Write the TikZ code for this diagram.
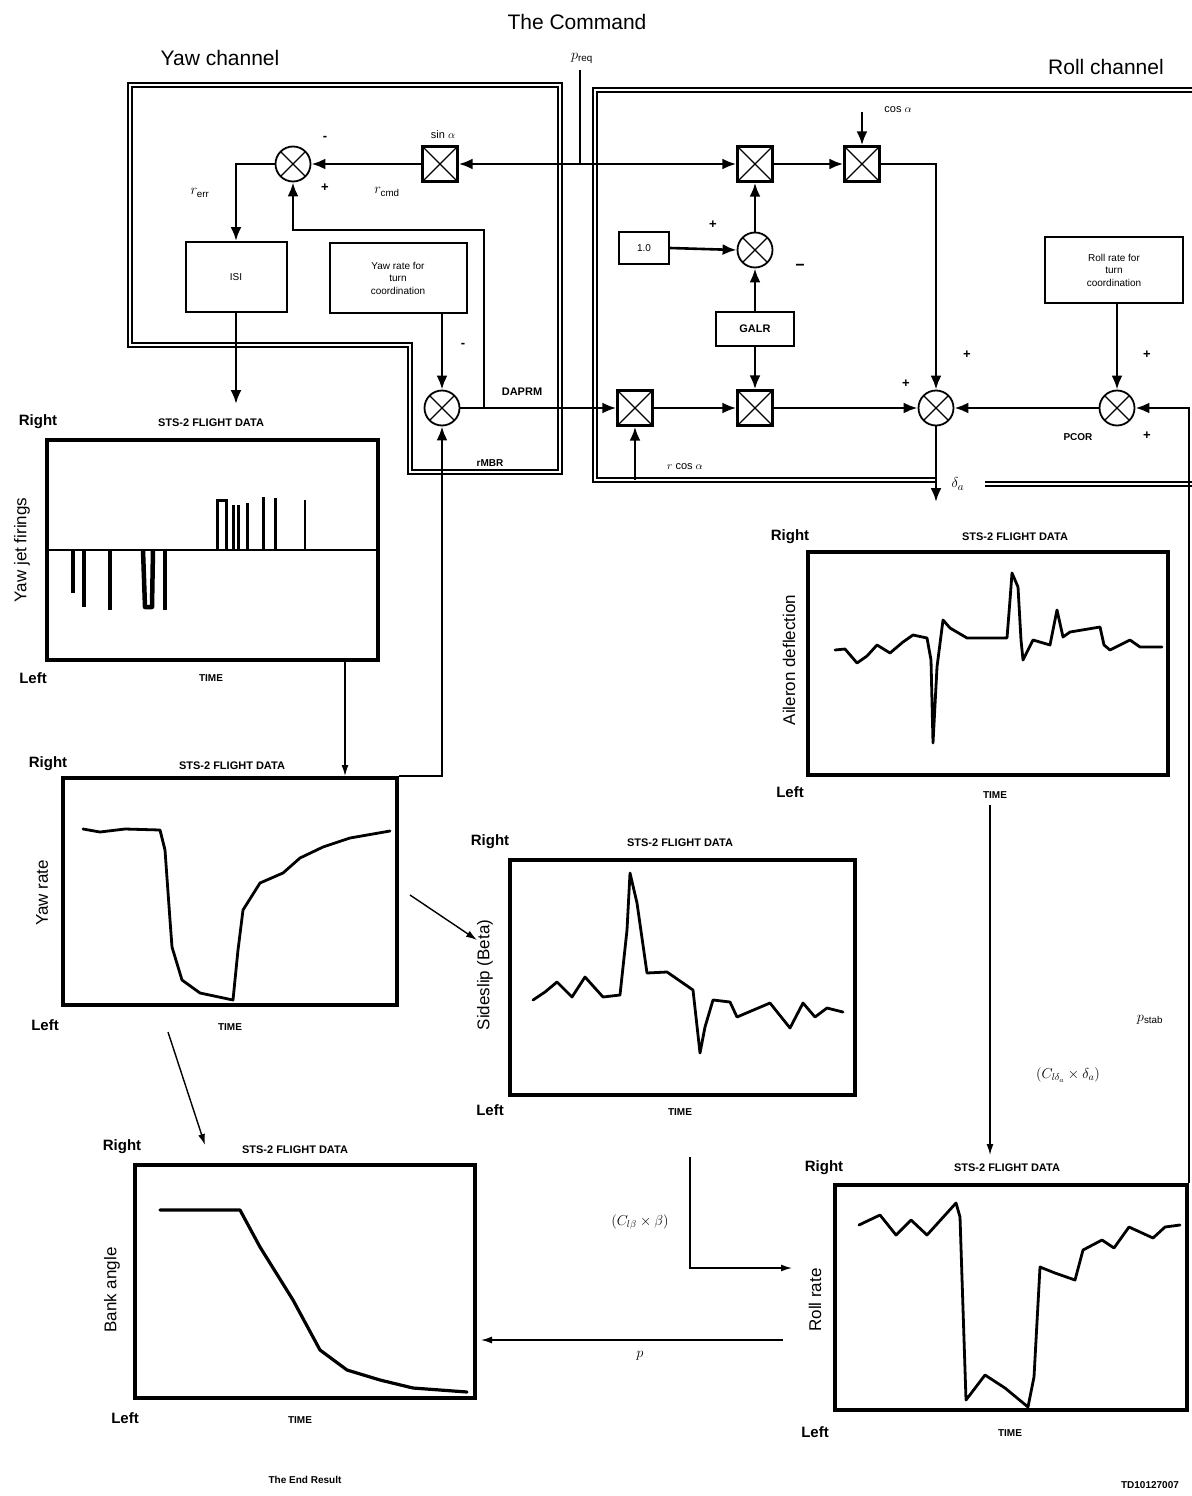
\documentclass[tikz,border=0pt]{standalone}
\usepackage{fontspec}
\setmainfont{Liberation Sans}
\usetikzlibrary{arrows.meta,calc}
\begin{document}
\begin{tikzpicture}[x=1pt,y=-1pt,
 sig/.style={line width=2.6pt,-{Latex[length=14pt,width=11pt]}},
 wire/.style={line width=2.6pt},
 thinarr/.style={line width=1.4pt,-{Latex[length=11pt,width=7pt]}},
 bound/.style={draw,line width=1.5pt,double=white,double distance=2.4pt},
 sumj/.style={circle,draw,line width=1.8pt,minimum size=35pt,inner sep=0pt,fill=white,
   path picture={\draw[line width=1.1pt] (path picture bounding box.north west)--(path picture bounding box.south east) (path picture bounding box.north east)--(path picture bounding box.south west);}},
 mult/.style={rectangle,draw,line width=2.4pt,minimum width=35pt,minimum height=35pt,inner sep=0pt,fill=white,
   path picture={\draw[line width=1.1pt] (path picture bounding box.north west)--(path picture bounding box.south east) (path picture bounding box.north east)--(path picture bounding box.south west);}},
 blk/.style={rectangle,draw,line width=2pt,align=center,fill=white,font=\fontsize{10}{12.5}\selectfont},
 graph/.style={rectangle,draw,line width=4pt,inner sep=0pt},
 curve/.style={line width=2.8pt,line join=round,line cap=round},
 jetd/.style={line width=4.5pt},
 jetu/.style={line width=3pt},
 lab/.style={font=\fontsize{11}{13}\selectfont},
 mlab/.style={font=\fontsize{14}{16}\selectfont},
 sgn/.style={font=\bfseries\fontsize{13}{14}\selectfont},
 gtitle/.style={font=\bfseries\fontsize{11}{13}\selectfont},
 rl/.style={font=\bfseries\fontsize{15}{17}\selectfont},
 tm/.style={font=\bfseries\fontsize{10}{12}\selectfont},
 ylab/.style={font=\fontsize{17}{19}\selectfont,rotate=90},
 head/.style={font=\fontsize{21}{24}\selectfont}]
\useasboundingbox (0,0) rectangle (1191,1496);
\fill[white] (0,0) rectangle (1191,1496);

% headings
\node[head] (cmdtitle) at (577,22) {The Command};
\node[head] (yawtitle) at (220,58) {Yaw channel};
\node[head] (rolltitle) at (1106,67) {Roll channel};

% channel boundaries
\draw[bound] (130,85) -- (560,85) -- (560,472) -- (410,472) -- (410,345) -- (130,345) -- cycle;
\draw[bound] (1195,90) -- (595,90) -- (595,480) -- (936,480);
\draw[bound] (985,484) -- (1195,484);

% ---------------- yaw channel ----------------
\node[sumj] (s1) at (293,164) {};
\node[mult] (sinB) at (440,164) {};
\node[lab] (sinL) at (443,135) {sin $\alpha$};
\node[blk,minimum width=101pt,minimum height=70pt] (isi) at (236,277) {ISI};
\node[blk,minimum width=137pt,minimum height=70pt] (yrb) at (398,278) {Yaw rate for\\turn\\coordination};
\node[sumj] (s2) at (442,408) {};
\node[mlab] (rerr) at (200,193) {$r_{\mathrm{err}}$};
\node[mlab] (rcmd) at (387,192) {$r_{\mathrm{cmd}}$};
\node[sgn] (s1m) at (325,138) {-};
\node[sgn] (s1p) at (325,188) {+};
\node[sgn] (s2m) at (463,345) {-};
\node[lab,font=\bfseries\fontsize{11}{13}\selectfont] (daprm) at (522,392) {DAPRM};
\node[lab,font=\bfseries\fontsize{10}{12}\selectfont] (rmbr) at (490,463) {rMBR};
\node[mlab] (preq) at (582,58) {$p_{\mathrm{req}}$};

% ---------------- roll channel ----------------
\node[mult] (R1) at (755,164) {};
\node[mult] (R2) at (862,164) {};
\node[lab] (cosL) at (898,110) {cos $\alpha$};
\node[blk,minimum width=50pt,minimum height=32pt] (one) at (644,248) {1.0};
\node[sumj] (sM) at (755,250) {};
\node[blk,minimum width=78pt,minimum height=34pt,font=\bfseries\fontsize{11}{13}\selectfont] (galr) at (755,329) {GALR};
\node[mult] (R3) at (635,408) {};
\node[mult] (R4) at (755,408) {};
\node[sumj] (sR) at (936,408) {};
\node[sumj] (sP) at (1117,408) {};
\node[blk,minimum width=138pt,minimum height=66pt] (rrb) at (1114,270) {Roll rate for\\turn\\coordination};
\node[sgn] (sMp) at (713,225) {+};
\node[font=\bfseries\fontsize{16}{16}\selectfont] (sMm) at (800,267) {−};
\node[sgn] (sRp1) at (967,355) {+};
\node[sgn] (sRp2) at (906,384) {+};
\node[sgn] (sPp1) at (1147,355) {+};
\node[sgn] (sPp2) at (1147,436) {+};
\node[lab,font=\bfseries\fontsize{10}{12}\selectfont] (pcor) at (1078,437) {PCOR};
\node[lab] (rcos) at (685,467) {$r$ cos $\alpha$};
\node[font=\fontsize{15}{16}\selectfont] (dal) at (958,484) {$\delta_a$};

% ---------------- yaw signals ----------------
\coordinate (pq) at (580,70);
\coordinate (J) at (580,164);
\draw[wire] (pq) -- (J);
\draw[sig] (J) -- (sinB.east);
\draw[sig] (J) -- (R1.west);
\draw[sig] (sinB.west) -- (s1.east);
\draw[sig] (s1.west) -| (isi.north);
\coordinate (isiend) at (236,404);
\draw[sig] (isi.south) -- (isiend);
\draw[sig] (yrb.south -| s2.north) -- (s2.north);
\draw[sig] (s2.east) -- (R3.west);
\coordinate (jd) at (484,408);
\coordinate (fb1) at (484,230);
\draw[sig] (jd) -- (fb1) -| (s1.south);

% ---------------- roll signals ----------------
\draw[sig] (R1.east) -- (R2.west);
\coordinate (cosin) at (862,112);
\draw[sig] (cosin) -- (R2.north);
\draw[sig] (R2.east) -| (sR.north);
\draw[sig] (one.east) -- (sM.west);
\draw[sig] (sM.north) -- (R1.south);
\draw[sig] (galr.north) -- (sM.south);
\draw[sig] (galr.south) -- (R4.north);
\draw[sig] (R3.east) -- (R4.west);
\draw[sig] (R4.east) -- (sR.west);
\coordinate (rc) at (635,480);
\draw[sig] (rc) -- (R3.south);
\coordinate (dA) at (936,502);
\draw[sig] (sR.south) -- (dA);
\draw[sig] (rrb.south -| sP.north) -- (sP.north);
\draw[sig] (sP.west) -- (sR.east);

% ---------------- graphs ----------------
\node[graph,minimum width=331pt,minimum height=220pt] (g1) at (212.5,550) {};
\node[graph,minimum width=334pt,minimum height=227pt] (g2) at (230,891.5) {};
\node[graph,minimum width=345pt,minimum height=235pt] (g3) at (682.5,977.5) {};
\node[graph,minimum width=360pt,minimum height=223pt] (g4) at (988,663.5) {};
\node[graph,minimum width=352pt,minimum height=225pt] (g5) at (1011,1297.5) {};
\node[graph,minimum width=340pt,minimum height=233pt] (g6) at (305,1281.5) {};

% graph 1 texts
\node[rl] (g1r) at (38,422) {Right};
\node[gtitle] (g1t) at (211,423) {STS-2 FLIGHT DATA};
\node[ylab] (g1y) at (22,550) {Yaw jet firings};
\node[rl] (g1l) at (33,678) {Left};
\node[tm] (g1x) at (211,678) {TIME};
% graph 2 texts
\node[rl] (g2r) at (48,764) {Right};
\node[gtitle] (g2t) at (232,766) {STS-2 FLIGHT DATA};
\node[ylab] (g2y) at (42,893) {Yaw rate};
\node[rl] (g2l) at (45,1025) {Left};
\node[tm] (g2x) at (230,1027) {TIME};
% graph 3 texts
\node[rl] (g3r) at (490,842) {Right};
\node[gtitle] (g3t) at (680,843) {STS-2 FLIGHT DATA};
\node[ylab] (g3y) at (485,975) {Sideslip (Beta)};
\node[rl] (g3l) at (490,1110) {Left};
\node[tm] (g3x) at (680,1112) {TIME};
% graph 4 texts
\node[rl] (g4r) at (790,537) {Right};
\node[gtitle] (g4t) at (1015,537) {STS-2 FLIGHT DATA};
\node[ylab] (g4y) at (789,660) {Aileron deflection};
\node[rl] (g4l) at (790,792) {Left};
\node[tm] (g4x) at (995,795) {TIME};
% graph 5 texts
\node[rl] (g5r) at (824,1168) {Right};
\node[gtitle] (g5t) at (1007,1168) {STS-2 FLIGHT DATA};
\node[ylab] (g5y) at (815,1300) {Roll rate};
\node[rl] (g5l) at (815,1432) {Left};
\node[tm] (g5x) at (1010,1433) {TIME};
% graph 6 texts
\node[rl] (g6r) at (122,1147) {Right};
\node[gtitle] (g6t) at (295,1150) {STS-2 FLIGHT DATA};
\node[ylab] (g6y) at (112,1290) {Bank angle};
\node[rl] (g6l) at (125,1418) {Left};
\node[tm] (g6x) at (300,1420) {TIME};

% yaw jet firings trace
\draw[line width=2.6pt] (47,550) -- (378,550);
\draw[jetd] (73,550)--(73,593) (84,550)--(84,607) (110,550)--(110,610) (165,550)--(165,610);
\draw[jetd,line join=round] (143,550)--(145,607)--(152,607)--(153,550);
\draw[jetu] (217,550)--(217,500)--(226,500)--(226,550) (233,550)--(233,505) (238,550)--(238,505) (247,550)--(247,503) (263,550)--(263,497) (275,550)--(275,498);
\draw[line width=2pt] (305,550)--(305,500);

% aileron trace
\draw[curve] (835,650) -- (845,649) -- (857,663) -- (867,656) -- (877,645) -- (890,653) -- (903,642) -- (913,635) -- (927,638) -- (931,660) -- (933,743) -- (937,667) -- (943,620) -- (950,628) -- (967,638) -- (1007,638) -- (1010,600) -- (1012,573) -- (1018,587) -- (1021,640) -- (1023,660) -- (1033,640) -- (1050,645) -- (1057,610) -- (1063,637) -- (1070,632) -- (1100,627) -- (1104,645) -- (1110,650) -- (1130,640) -- (1140,647) -- (1162,647);

% yaw rate trace
\draw[curve] (83,829) -- (100,832) -- (125,829) -- (160,830) -- (165,850) -- (170,920) -- (172,947) -- (182,980) -- (200,993) -- (233,1000) -- (238,950) -- (243,910) -- (260,883) -- (283,873) -- (300,858) -- (323,847) -- (350,838) -- (390,831);

% sideslip trace
\draw[curve] (533,1000) -- (545,992) -- (557,982) -- (572,997) -- (585,977) -- (603,997) -- (620,995) -- (627,930) -- (630,873) -- (637,903) -- (647,973) -- (667,972) -- (693,990) -- (700,1053) -- (705,1027) -- (713,1000) -- (730,1002) -- (737,1017) -- (770,1003) -- (790,1028) -- (803,1003) -- (815,1017) -- (827,1008) -- (843,1012);

% roll rate trace
\draw[curve] (859,1225) -- (880,1215) -- (896,1235) -- (911,1220) -- (927,1235) -- (956,1203) -- (960,1217) -- (966,1400) -- (985,1375) -- (1005,1388) -- (1028,1407) -- (1034,1377) -- (1040,1267) -- (1055,1273) -- (1075,1280) -- (1083,1250) -- (1102,1240) -- (1114,1248) -- (1129,1227) -- (1153,1238) -- (1165,1227) -- (1180,1225);

% bank angle trace
\draw[curve,line width=3.2pt] (160,1210) -- (240,1210) -- (260,1247) -- (293,1300) -- (320,1350) -- (347,1370) -- (380,1380) -- (413,1388) -- (467,1392);

% ---------------- graph connectors ----------------
\coordinate (c345) at (345,0);
\draw[thinarr] (g1.south -| c345) -- (g2.north -| c345);
\draw[sig] (g2.north east) -| (s2.south);
\coordinate (a1) at (410,895);
\coordinate (a2) at (477,940);
\draw[thinarr] (a1) -- (a2);
\coordinate (b1) at (168,1032);
\coordinate (b2) at (205,1145);
\draw[thinarr] (b1) -- (b2);
\coordinate (d1) at (990,805);
\coordinate (d2) at (990,1155);
\draw[thinarr] (d1) -- (d2);
\node[mlab] (cld) at (1068,1075) {$(C_{l\delta_a}\times\delta_a)$};
\coordinate (e1) at (690,1157);
\coordinate (e2) at (690,1268);
\coordinate (e3) at (792,1268);
\draw[thinarr] (e1) -- (e2) -- (e3);
\node[mlab] (clb) at (640,1222) {$(C_{l\beta}\times\beta)$};
\coordinate (f1) at (783,1340);
\coordinate (f2) at (481,1340);
\draw[thinarr] (f1) -- (f2);
\node[mlab] (pl) at (640,1356) {$p$};
\draw[sig] (g5.north east) |- (sP.east);
\node[mlab] (pstab) at (1150,1020) {$p_{\mathrm{stab}}$};

% footer
\node[tm] (endres) at (305,1480) {The End Result};
\node[tm] (idno) at (1150,1485) {TD10127007};
\end{tikzpicture}
\end{document}
